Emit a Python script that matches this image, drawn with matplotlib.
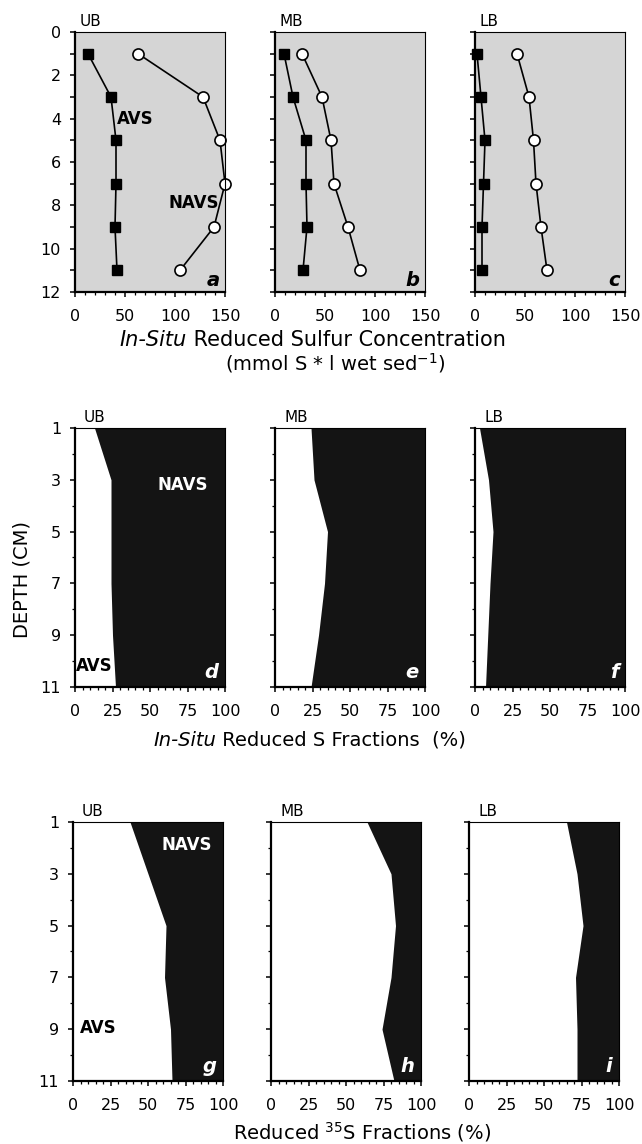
import numpy as np
import matplotlib
matplotlib.use("Agg")
import matplotlib.pyplot as plt

plt.rcParams['font.family'] = ['DejaVu Sans']

# depths (cm)
depth = [1, 3, 5, 7, 9, 11]
sites = ['UB', 'MB', 'LB']

# in-situ reduced sulfur (mmol S / l wet sed)
avs_conc = {'UB': [13, 36, 41, 41, 40, 42],
            'MB': [9, 18, 31, 31, 32, 28],
            'LB': [2, 6, 10, 8.5, 7, 7]}
navs_conc = {'UB': [63, 128, 145, 150, 139, 105],
             'MB': [27, 47, 56, 59, 73, 85],
             'LB': [42, 54, 58.5, 61, 66, 72]}

# AVS share of in-situ reduced S (%)
avs_frac = {'UB': [13, 24, 24, 24, 25, 27],
            'MB': [24, 26, 35, 33, 29, 24],
            'LB': [3, 9, 12, 10, 8.5, 7]}

# AVS share of reduced 35S (%)
avs35_frac = {'UB': [38, 50, 62, 61, 65, 66],
              'MB': [64, 80, 83, 80, 74, 82],
              'LB': [65, 72, 76, 71, 72, 72]}

W, H = 642, 1144
fig = plt.figure(figsize=(W / 100, H / 100), dpi=100)


def px_axes(x, ytop, w, h):
    return fig.add_axes([x / W, 1 - (ytop + h) / H, w / W, h / H])


def style(ax):
    ax.spines['left'].set_linewidth(1.6)
    ax.spines['bottom'].set_linewidth(1.6)
    ax.spines['top'].set_linewidth(0.8)
    ax.spines['right'].set_linewidth(0.8)
    ax.tick_params(which='major', direction='out', length=3.5, width=1.1, labelsize=11.5)
    ax.tick_params(which='minor', direction='out', length=2, width=0.9)
    ax.tick_params(axis='x', which='major', pad=8.5)
    ax.tick_params(axis='y', which='major', pad=6.5)


letters = 'abcdefghi'
lefts = [75, 275, 475]

# top row: concentrations
for i, s in enumerate(sites):
    ax = px_axes(lefts[i], 32, 150, 260)
    ax.set_facecolor('#d5d5d5')
    ax.plot(avs_conc[s], depth, color='black', lw=1.2, marker='s', ms=7,
            mfc='black', mec='black', clip_on=False)
    ax.plot(navs_conc[s], depth, color='black', lw=1.2, marker='o', ms=8,
            mfc='white', mec='black', mew=1.2, clip_on=False)
    ax.set_xlim(0, 150)
    ax.set_ylim(12, 0)
    ax.set_xticks([0, 50, 100, 150])
    ax.set_xticks(np.arange(0, 151, 10), minor=True)
    ax.set_yticks(np.arange(0, 13, 1))
    if i == 0:
        ax.set_yticklabels([str(v) if v % 2 == 0 else '' for v in range(13)])
        ax.text(42, 4, 'AVS', fontsize=12, fontweight='bold', va='center')
        ax.text(93, 7.9, 'NAVS', fontsize=12, fontweight='bold', va='center')
    else:
        ax.set_yticklabels([])
    style(ax)
    ax.text(0.03, 1.01, s, transform=ax.transAxes, fontsize=11, va='bottom')
    ax.text(0.965, 0.045, letters[i], transform=ax.transAxes, fontsize=14,
            fontweight='bold', style='italic', ha='right', va='center')


def frac_row(ytop, data, row):
    for i, s in enumerate(sites):
        ax = px_axes(lefts[i] - (2 * i + 2 if row == 2 else 0), ytop, 150, 259)
        ax.set_facecolor('white')
        ax.fill_betweenx(depth, 0, data[s], color='white', lw=0)
        ax.fill_betweenx(depth, data[s], 100, color='#141414', lw=0)
        ax.set_xlim(0, 100)
        ax.set_ylim(11, 1)
        ax.set_xticks([0, 25, 50, 75, 100])
        ax.set_xticks(np.arange(0, 101, 5), minor=True)
        ax.set_yticks([1, 3, 5, 7, 9, 11])
        ax.set_yticks(np.arange(1, 12, 1), minor=True)
        if i != 0:
            ax.set_yticklabels([])
        style(ax)
        ax.text(0.06, 1.01, s, transform=ax.transAxes, fontsize=11, va='bottom')
        ax.text(0.955, 0.055, letters[3 * row + i], transform=ax.transAxes,
                fontsize=14, fontweight='bold', style='italic', ha='right',
                va='center', color='white')
        if i == 0:
            yield ax


for ax in frac_row(428, avs_frac, 1):
    ax.text(55, 3.2, 'NAVS', fontsize=12, fontweight='bold', color='white', va='center')
    ax.text(0.7, 10.2, 'AVS', fontsize=12, fontweight='bold', color='black', va='center')

for ax in frac_row(822, avs35_frac, 2):
    ax.text(59, 1.9, 'NAVS', fontsize=12, fontweight='bold', color='white', va='center')
    ax.text(4.7, 8.95, 'AVS', fontsize=12, fontweight='bold', color='black', va='center')

# axis labels
fig.text(187 / W, 1 - 340 / H, 'In-Situ', fontsize=15, style='italic',
         ha='right', va='center')
fig.text(187 / W, 1 - 340 / H, ' Reduced Sulfur Concentration', fontsize=15,
         ha='left', va='center')
fig.text(335 / W, 1 - 363 / H, r'(mmol S * l wet sed$^{-1}$)', fontsize=14,
         ha='center', va='center')
fig.text(216 / W, 1 - 740 / H, 'In-Situ', fontsize=14, style='italic',
         ha='right', va='center')
fig.text(216 / W, 1 - 740 / H, ' Reduced S Fractions  (%)', fontsize=14,
         ha='left', va='center')
fig.text(362 / W, 1 - 1132 / H, r'Reduced $^{35}$S Fractions (%)', fontsize=14,
         ha='center', va='center')
fig.text(22 / W, 1 - 580 / H, 'DEPTH (CM)', fontsize=14, rotation=90,
         ha='center', va='center')

fig.savefig('out.png', dpi=100)
